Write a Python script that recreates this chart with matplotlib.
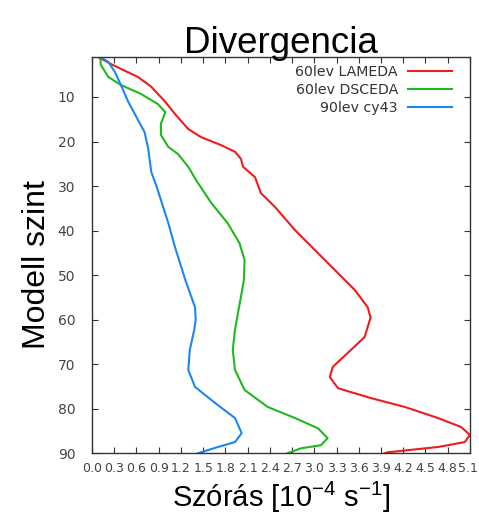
import matplotlib
matplotlib.use("Agg")
import matplotlib.pyplot as plt
import matplotlib.transforms as mtrans
import numpy as np

plt.rcParams['mathtext.default'] = 'regular'

# model levels and std. deviation values
red_lev = [1, 2.8, 5.5, 7.7, 11.1, 14, 17.2, 19, 20.8, 22.3, 23.9, 25.7, 28, 31.6, 34.7, 39.9,
           44.4, 48.9, 53.4, 57.2, 59.5, 63.9, 67.5, 70.6, 72.9, 75.4, 77.6, 79.6, 82.1, 84.1,
           85.9, 87.5, 88.6, 89.8, 90]
red_val = [0.08, 0.28, 0.62, 0.80, 0.99, 1.13, 1.30, 1.47, 1.74, 1.93, 2.01, 2.04, 2.20, 2.28,
           2.47, 2.74, 3.01, 3.28, 3.55, 3.72, 3.76, 3.68, 3.45, 3.25, 3.21, 3.32, 3.76, 4.22,
           4.67, 4.98, 5.10, 5.03, 4.67, 3.99, 3.95]

green_lev = [1, 2.8, 5.5, 7.3, 9.3, 11.6, 13.4, 16, 18.5, 21.2, 22.8, 25.7, 28.8, 33.8, 38.3,
             42.8, 46.6, 51.1, 54.9, 58.5, 62.3, 66.8, 71.3, 75.8, 79.6, 82.1, 84.4, 86.6,
             88.2, 88.9, 90]
green_val = [0.11, 0.12, 0.22, 0.39, 0.66, 0.89, 0.99, 0.93, 0.93, 1.03, 1.16, 1.30, 1.41,
             1.61, 1.83, 1.99, 2.06, 2.05, 2.01, 1.97, 1.93, 1.90, 1.93, 2.06, 2.37, 2.74,
             3.05, 3.18, 3.09, 2.82, 2.64]

blue_lev = [1, 2.1, 4.4, 7.3, 11.1, 14.5, 17.9, 21.7, 26.8, 30, 33.1, 38.3, 43.7, 51.1, 57.2,
            60, 62.3, 66.8, 71.3, 75.1, 78.7, 82.1, 85.5, 87.5, 88.6, 89.8, 90]
blue_val = [0.11, 0.22, 0.31, 0.39, 0.49, 0.60, 0.71, 0.76, 0.80, 0.87, 0.93, 1.03, 1.12, 1.26,
            1.39, 1.40, 1.38, 1.32, 1.30, 1.39, 1.66, 1.93, 2.02, 1.93, 1.70, 1.47, 1.43]

x_ticks = np.round(np.arange(0, 5.11, 0.3), 1)
y_ticks = [10, 20, 30, 40, 50, 60, 70, 80, 90]

fig = plt.figure(figsize=(4.79, 5.27), dpi=100)
ax = fig.add_axes([0.192, 0.140, 0.789, 0.752])

ax.plot(red_val, red_lev, color='#ee1c1c', lw=1.5, label='60lev LAMEDA')
ax.plot(green_val, green_lev, color='#1fb81f', lw=1.5, label='60lev DSCEDA')
ax.plot(blue_val, blue_lev, color='#1e86f0', lw=1.5, label='90lev cy43')

ax.set_xlim(0, 5.1)
ax.set_ylim(90, 1)
ax.set_xticks(x_ticks)
ax.set_xticklabels([f'{v:.1f}' for v in x_ticks])
ax.set_yticks(y_ticks)
ax.tick_params(direction='in', top=True, right=True, length=4, width=0.8,
               labelsize=9, labelcolor='#444444', color='#333333')
ax.tick_params(axis='x', pad=6)
ax.tick_params(axis='y', labelsize=10, pad=12)
for s in ax.spines.values():
    s.set_color('#333333')
    s.set_linewidth(1.0)

# nudge the last x label so it stays inside the figure
last = ax.get_xticklabels()[-1]
last.set_transform(last.get_transform() + mtrans.ScaledTranslation(-0.015, 0, fig.dpi_scale_trans))

font = ['Liberation Sans', 'DejaVu Sans']
ax.set_title('Divergencia', fontsize=26.5, family=font, pad=3)
ax.set_xlabel('Szórás [10$^{-4}$ s$^{-1}$]', fontsize=21, family=font, labelpad=4)
ax.set_ylabel('Modell szint', fontsize=23, family=font)
ax.yaxis.set_label_coords(-0.106, 0.475)

leg = ax.legend(loc='upper right', bbox_to_anchor=(0.967, 0.995), borderaxespad=0,
                frameon=False, markerfirst=False, fontsize=10.2,
                handlelength=3.1, handletextpad=0.7, labelspacing=0.3)
for t in leg.get_texts():
    t.set_color('#333333')

fig.savefig('out.png', dpi=100)
